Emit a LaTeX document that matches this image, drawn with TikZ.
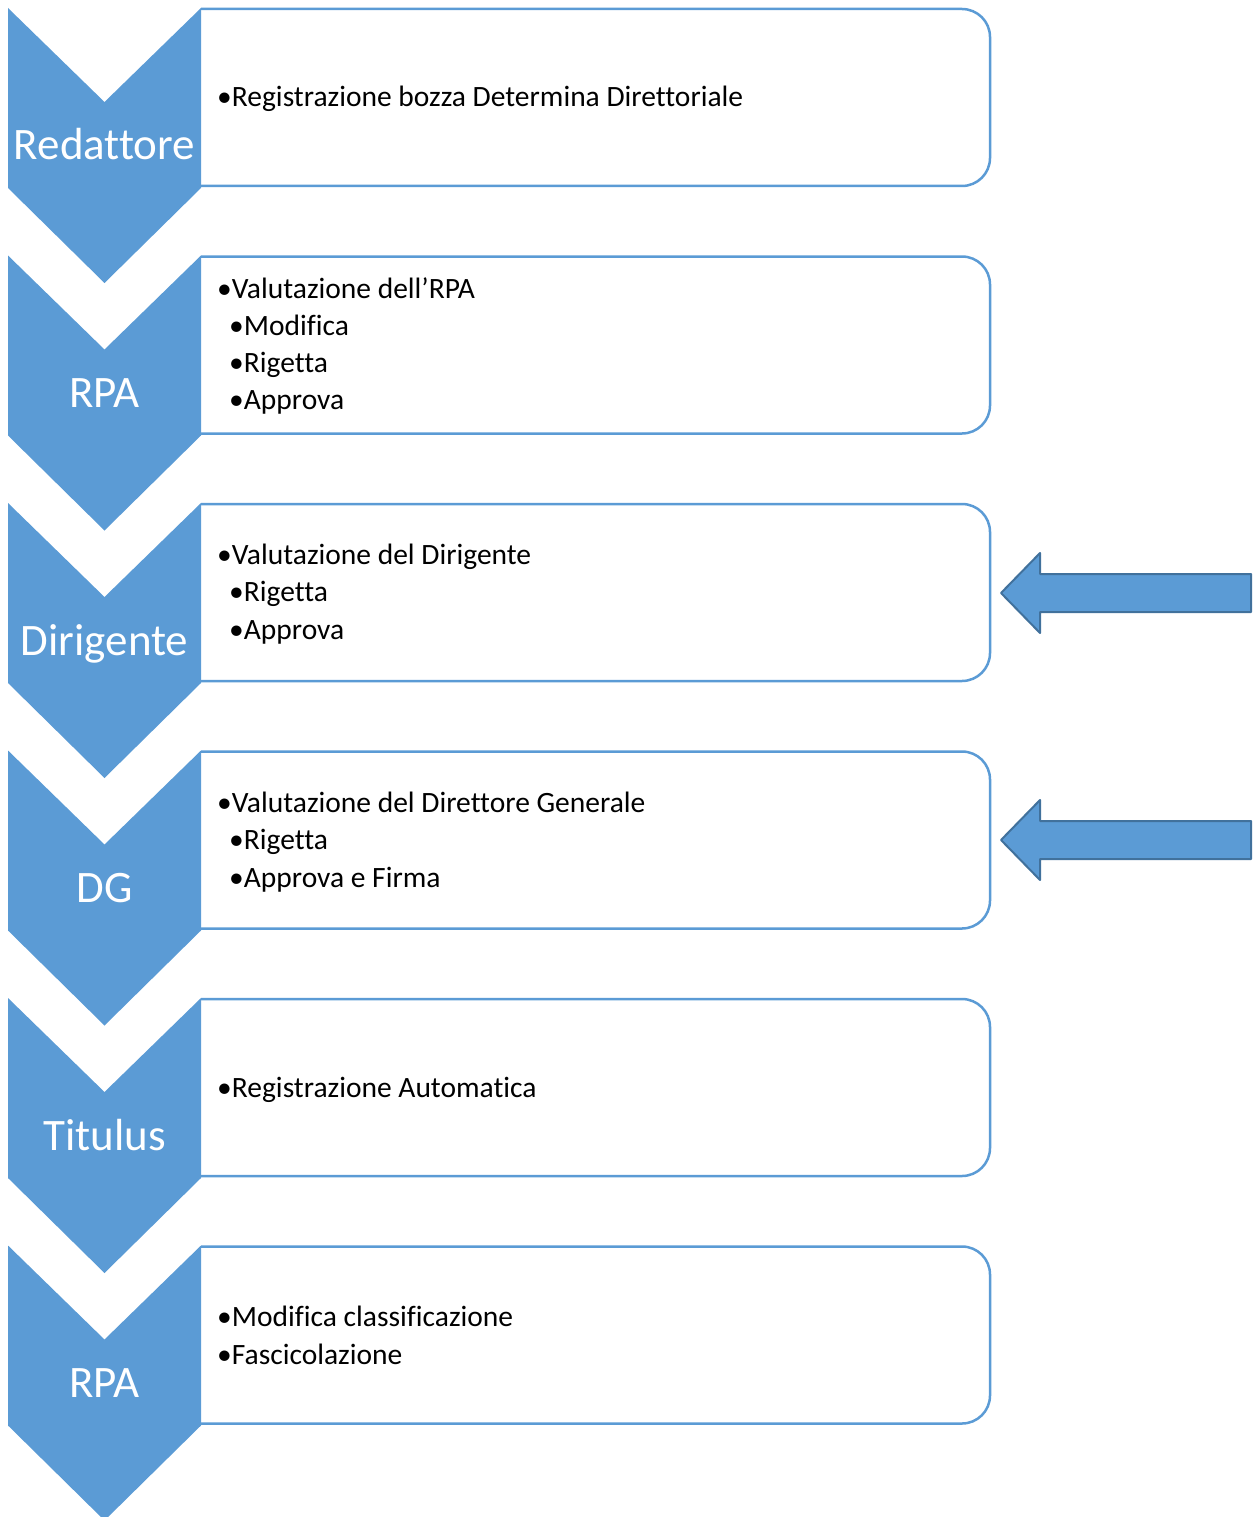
\documentclass[tikz,border=0pt]{standalone}
\usepackage{fontspec}
\setmainfont{Carlito}[Ligatures={NoCommon}]
\definecolor{blu}{HTML}{5B9BD5}
\definecolor{blubordo}{HTML}{41719C}
\begin{document}
\begin{tikzpicture}[x=1pt, y=-1pt, line join=round]
\tikzset{chev/.style={fill=blu},
  casella/.style={draw=blu, line width=2.5pt, rounded corners=28pt},
  freccia/.style={fill=blu, draw=blubordo, line width=2pt},
  ruolo/.style={text=white, anchor=base, inner sep=0pt, font=\fontsize{45}{54}\selectfont},
  voce/.style={anchor=base west, inner sep=0pt, font=\fontsize{29.5}{35}\selectfont}}
\useasboundingbox (0,0) rectangle (1253,1517);
% fasi
\foreach \i/\y/\r in {1/8/Redattore, 2/255.5/RPA, 3/503/Dirigente, 4/750.5/DG, 5/998/Titulus, 6/1245.5/RPA}
{
    \draw[casella] (201,\y+1) -- (990,\y+1) -- (990,\y+178) -- (201,\y+178);
    \fill[chev] (8,\y) -- (104.5,\y+94) -- (201,\y) -- (201,\y+180) -- (104.5,\y+275) -- (8,\y+180) -- cycle;
    \node[ruolo] (r\i) at (104.5,\y+152) {\r};
}
% attivita
\node[voce] (t1) at (217,107) {•Registrazione bozza Determina Direttoriale};
\node[voce] (t2) at (217,298) {•Valutazione dell’RPA};
\node[voce] (t2a) at (229,335) {•Modifica};
\node[voce] (t2b) at (229,372) {•Rigetta};
\node[voce] (t2c) at (229,409) {•Approva};
\node[voce] (t3) at (217,564) {•Valutazione del Dirigente};
\node[voce] (t3a) at (229,601) {•Rigetta};
\node[voce] (t3b) at (229,639) {•Approva};
\node[voce] (t4) at (217,812) {•Valutazione del Direttore Generale};
\node[voce] (t4a) at (229,849) {•Rigetta};
\node[voce] (t4b) at (229,887) {•Approva e Firma};
\node[voce] (t5) at (217,1097) {•Registrazione Automatica};
\node[voce] (t6) at (217,1326) {•Modifica classificazione};
\node[voce] (t6a) at (217,1364) {•Fascicolazione};
% ritorni
\foreach \y in {593,840}
    \draw[freccia] (1251,\y-19) -- (1040,\y-19) -- (1040,\y-40) -- (1001,\y) -- (1040,\y+40) -- (1040,\y+19) -- (1251,\y+19) -- cycle;
\end{tikzpicture}
\end{document}
